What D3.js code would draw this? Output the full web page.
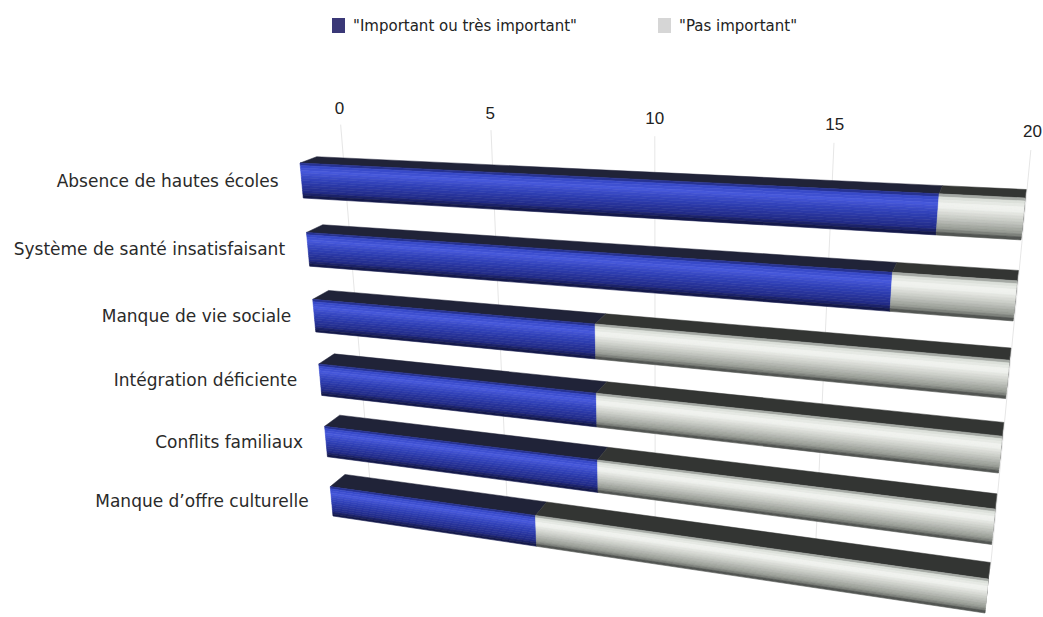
<!DOCTYPE html>
<html>
<head>
<meta charset="utf-8">
<script src="https://cdn.jsdelivr.net/npm/d3@7"></script>
<style>
  body { margin: 0; background: #fff; }
  text { font-family: "DejaVu Sans", Verdana, sans-serif; }
</style>
</head>
<body>
<svg id="chart" width="1043" height="617"></svg>
<script>
const categories = [
    "Absence de hautes écoles",
    "Système de santé insatisfaisant",
    "Manque de vie sociale",
    "Intégration déficiente",
    "Conflits familiaux",
    "Manque d’offre culturelle"
];
const important = [18, 17, 9, 9, 9, 7];
const notImportant = [2, 3, 11, 11, 11, 13];
const seriesNames = ['"Important ou très important"', '"Pas important"'];
const tickValues = [0, 5, 10, 15, 20];

const width = 1043, height = 617;

// where the front plane of the bars lands on screen, and the depth vanishing point
const corners = [[300, 163], [1025, 198], [985, 613], [333, 516]];
const vp = [1075, -130];
const barDepth = 0.022, wallDepth = 0.058;

const x = d3.scaleLinear().domain([0, 20]).range([0, 1]);
const y = d3.scaleBand().domain(categories).range([0, 1]).paddingInner(0.5).paddingOuter(0);

// unit square -> quad homography
const H = (() => {
    const [[x0, y0], [x1, y1], [x2, y2], [x3, y3]] = corners;
    const dx1 = x1 - x2, dx2 = x3 - x2, dx3 = x0 - x1 + x2 - x3;
    const dy1 = y1 - y2, dy2 = y3 - y2, dy3 = y0 - y1 + y2 - y3;
    const den = dx1 * dy2 - dx2 * dy1;
    const g = (dx3 * dy2 - dx2 * dy3) / den;
    const h = (dx1 * dy3 - dx3 * dy1) / den;
    return {
        a: x1 - x0 + g * x1, b: x3 - x0 + h * x3, c: x0,
        d: y1 - y0 + g * y1, e: y3 - y0 + h * y3, f: y0,
        g, h
    };
})();

const project = (u, v, z = 0) => {
    const w = H.g * u + H.h * v + 1 + z;
    return [
        (H.a * u + H.b * v + H.c + z * vp[0]) / w,
        (H.d * u + H.e * v + H.f + z * vp[1]) / w
    ];
};
const poly = pts => d3.line()(pts) + 'Z';

const blueRamp = d3.scaleLinear()
    .domain([0, 0.06, 0.25, 0.5, 0.82, 1])
    .range(['#15194d', '#3345c4', '#4658da', '#3040b6', '#222b88', '#11153c']);
const grayRamp = d3.scaleLinear()
    .domain([0, 0.06, 0.28, 0.58, 0.86, 1])
    .range(['#5e625e', '#d6dad4', '#f4f6f2', '#c6c9c3', '#92968f', '#3e403e']);

const svg = d3.select('#chart');

// legend
const legend = svg.append('g');
const legendItems = [
    {name: seriesNames[0], color: '#3a3877', x: 332},
    {name: seriesNames[1], color: '#d6d6d6', x: 658}
];
legendItems.forEach(d => {
    legend.append('rect')
        .attr('x', d.x).attr('y', 18).attr('width', 13).attr('height', 15)
        .attr('fill', d.color);
    legend.append('text')
        .attr('x', d.x + 21).attr('y', 31)
        .attr('font-size', 15).attr('fill', '#222')
        .text(d.name);
});

// back wall gridlines + value labels
const wall = svg.append('g');
tickValues.forEach(t => {
    const p0 = project(x(t), -0.06, wallDepth);
    const p1 = project(x(t), 1, wallDepth);
    wall.append('line')
        .attr('x1', p0[0]).attr('y1', p0[1]).attr('x2', p1[0]).attr('y2', p1[1])
        .attr('stroke', '#e6e6e6').attr('stroke-width', 1);
    const pl = project(x(t), -0.1, wallDepth);
    wall.append('text')
        .attr('x', pl[0]).attr('y', pl[1])
        .attr('text-anchor', 'middle').attr('dominant-baseline', 'middle')
        .style('font-family', '"Liberation Sans", Arial, sans-serif')
        .attr('font-size', 17).attr('fill', '#222')
        .text(t);
});

// bars
const bw = y.bandwidth();
const strips = 14;
const bars = svg.append('g');

categories.forEach((c, i) => {
    const v0 = y(c), v1 = v0 + bw;
    const segs = [
        {from: 0, to: important[i], ramp: blueRamp, top: '#202338'},
        {from: important[i], to: important[i] + notImportant[i], ramp: grayRamp, top: '#333533'}
    ];
    const g = bars.append('g');
    const end = x(segs[1].to);

    // right cap
    g.append('path')
        .attr('d', poly([project(end, v0, 0), project(end, v0, barDepth),
            project(end, v1, barDepth), project(end, v1, 0)]))
        .attr('fill', '#1c1d1c');

    segs.forEach(s => {
        const u0 = x(s.from), u1 = x(s.to);
        // top face
        g.append('path')
            .attr('d', poly([project(u0, v0, 0), project(u1, v0, 0),
                project(u1, v0, barDepth), project(u0, v0, barDepth)]))
            .attr('fill', s.top).attr('stroke', s.top).attr('stroke-width', 0.5);
        // front face, shaded in thin strips so the shading follows the perspective
        d3.range(strips).forEach(k => {
            const a = v0 + bw * k / strips, b = v0 + bw * (k + 1) / strips;
            const col = s.ramp((k + 0.5) / strips);
            g.append('path')
                .attr('d', poly([project(u0, a), project(u1, a), project(u1, b), project(u0, b)]))
                .attr('fill', col).attr('stroke', col).attr('stroke-width', 0.6);
        });
    });

    // category label
    const p = project(0, v0 + bw / 2, 0);
    svg.append('text')
        .attr('x', p[0] - 23).attr('y', p[1] + 1)
        .attr('text-anchor', 'end').attr('dominant-baseline', 'middle')
        .attr('font-size', 17).attr('fill', '#2a2a2a')
        .text(c);
});
</script>
</body>
</html>
